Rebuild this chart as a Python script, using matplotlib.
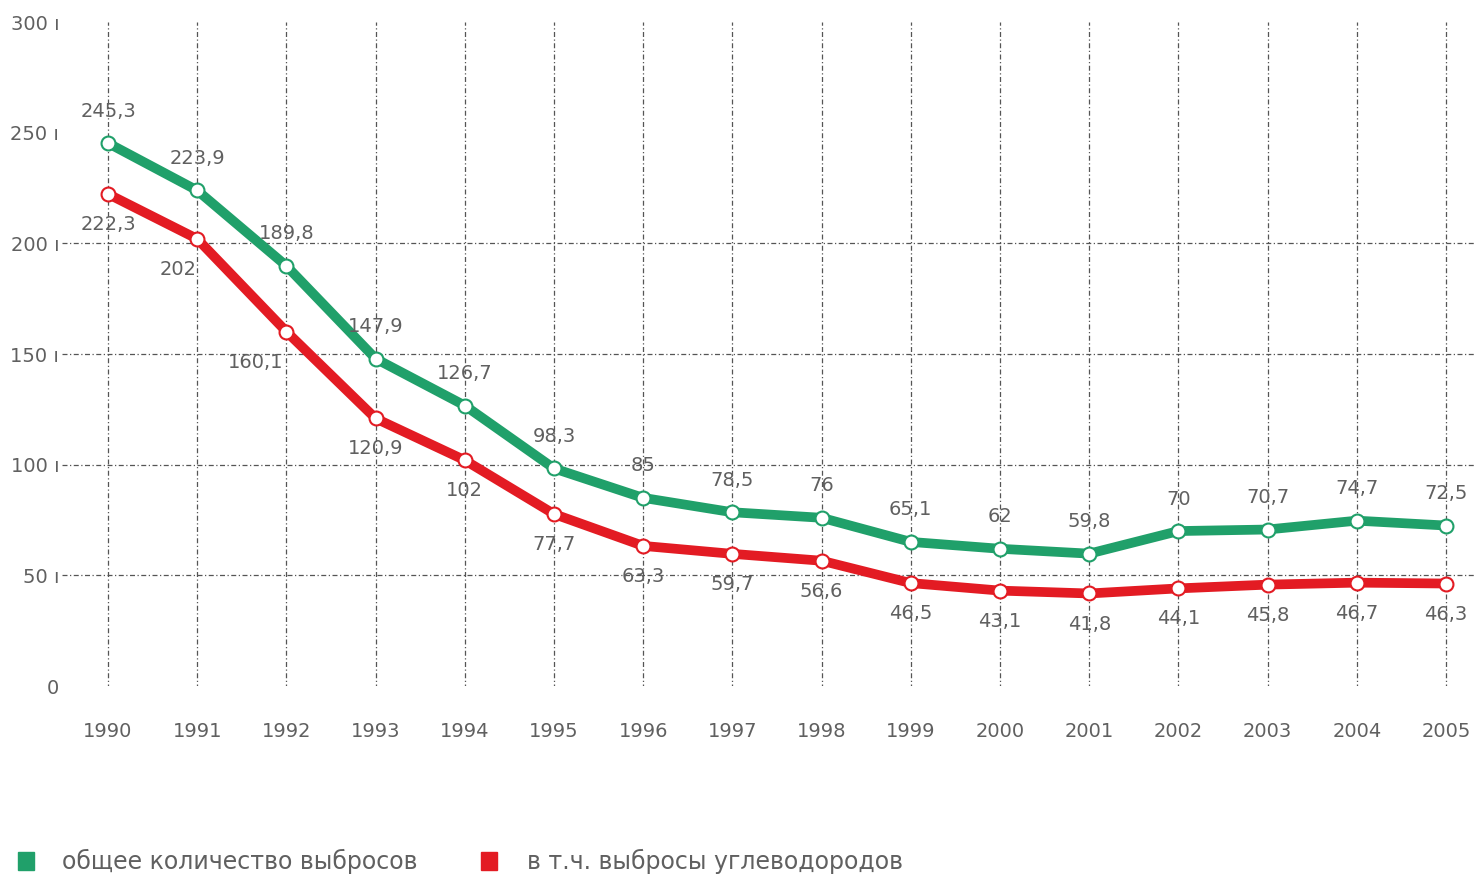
import matplotlib
matplotlib.use("Agg")
import matplotlib.pyplot as plt
from matplotlib.patches import Rectangle

years = list(range(1990, 2006))
total = [245.3, 223.9, 189.8, 147.9, 126.7, 98.3, 85, 78.5, 76, 65.1, 62, 59.8, 70, 70.7, 74.7, 72.5]
hydro = [222.3, 202, 160.1, 120.9, 102, 77.7, 63.3, 59.7, 56.6, 46.5, 43.1, 41.8, 44.1, 45.8, 46.7, 46.3]
yticks = [0, 50, 100, 150, 200, 250, 300]
legend_labels = ["общее количество выбросов", "в т.ч. выбросы углеводородов"]

GREEN = "#20a06a"
RED = "#e31b23"
GRID = "#555555"
TXT = "#606060"

plt.rcParams["font.family"] = ["DejaVu Sans"]

def fmt(v):
    s = f"{v:g}"
    return s.replace(".", ",")

fig = plt.figure(figsize=(14.76, 8.75), dpi=100)
ax = fig.add_axes([62/1476, 1-686/875, 1-62/1476, (686-22)/875])
ax.set_xlim(1990 - 46/89.2, 2005 + 30/89.2)
ax.set_ylim(0, 300)
for s in ax.spines.values():
    s.set_visible(False)

for y in [50, 100, 150, 200]:
    ax.axhline(y, color=GRID, lw=0.9, ls=(0, (4, 2, 1, 2)), zorder=1)
for x in years:
    ax.axvline(x, color=GRID, lw=0.9, ls=(0, (4, 2, 1, 2)), ymin=-0.005, ymax=1, zorder=1)

ax.plot(years, total, color=GREEN, lw=7, zorder=3, solid_joinstyle="round")
ax.plot(years, total, ls="none", marker="o", ms=10, mfc="white", mec=GREEN, mew=1.5, zorder=4)
ax.plot(years, hydro, color=RED, lw=7, zorder=3, solid_joinstyle="round")
ax.plot(years, hydro, ls="none", marker="o", ms=10, mfc="white", mec=RED, mew=1.5, zorder=4)

red_dx = {1991: -14, 1992: -22}
for x, v in zip(years, total):
    ax.annotate(fmt(v), (x, v), xytext=(0, 23), textcoords="offset points",
                ha="center", va="center", fontsize=14, color=TXT, zorder=5)
for x, v in zip(years, hydro):
    ax.annotate(fmt(v), (x, v), xytext=(red_dx.get(x, 0), -22), textcoords="offset points",
                ha="center", va="center", fontsize=14, color=TXT, zorder=5)

ax.set_yticks(yticks)
ax.set_yticklabels([str(t) if t == 0 else f"{t} ı" for t in yticks])
ax.set_xticks(years)
ax.set_xticklabels([str(y) for y in years])
ax.tick_params(axis="y", length=0, pad=2, labelsize=14, labelcolor=TXT)
ax.tick_params(axis="x", length=0, pad=26, labelsize=14, labelcolor=TXT)

# legend
fig.patches.append(Rectangle((18/1476, 1-870/875), 16/1476, 18/875, transform=fig.transFigure,
                             color=GREEN))
fig.text(62/1476, 1-861/875, legend_labels[0], fontsize=17, color=TXT, va="center", ha="left")
fig.patches.append(Rectangle((481/1476, 1-870/875), 16/1476, 18/875, transform=fig.transFigure,
                             color=RED))
fig.text(527/1476, 1-861/875, legend_labels[1], fontsize=17, color=TXT, va="center", ha="left")

fig.savefig("out.png", dpi=100)
